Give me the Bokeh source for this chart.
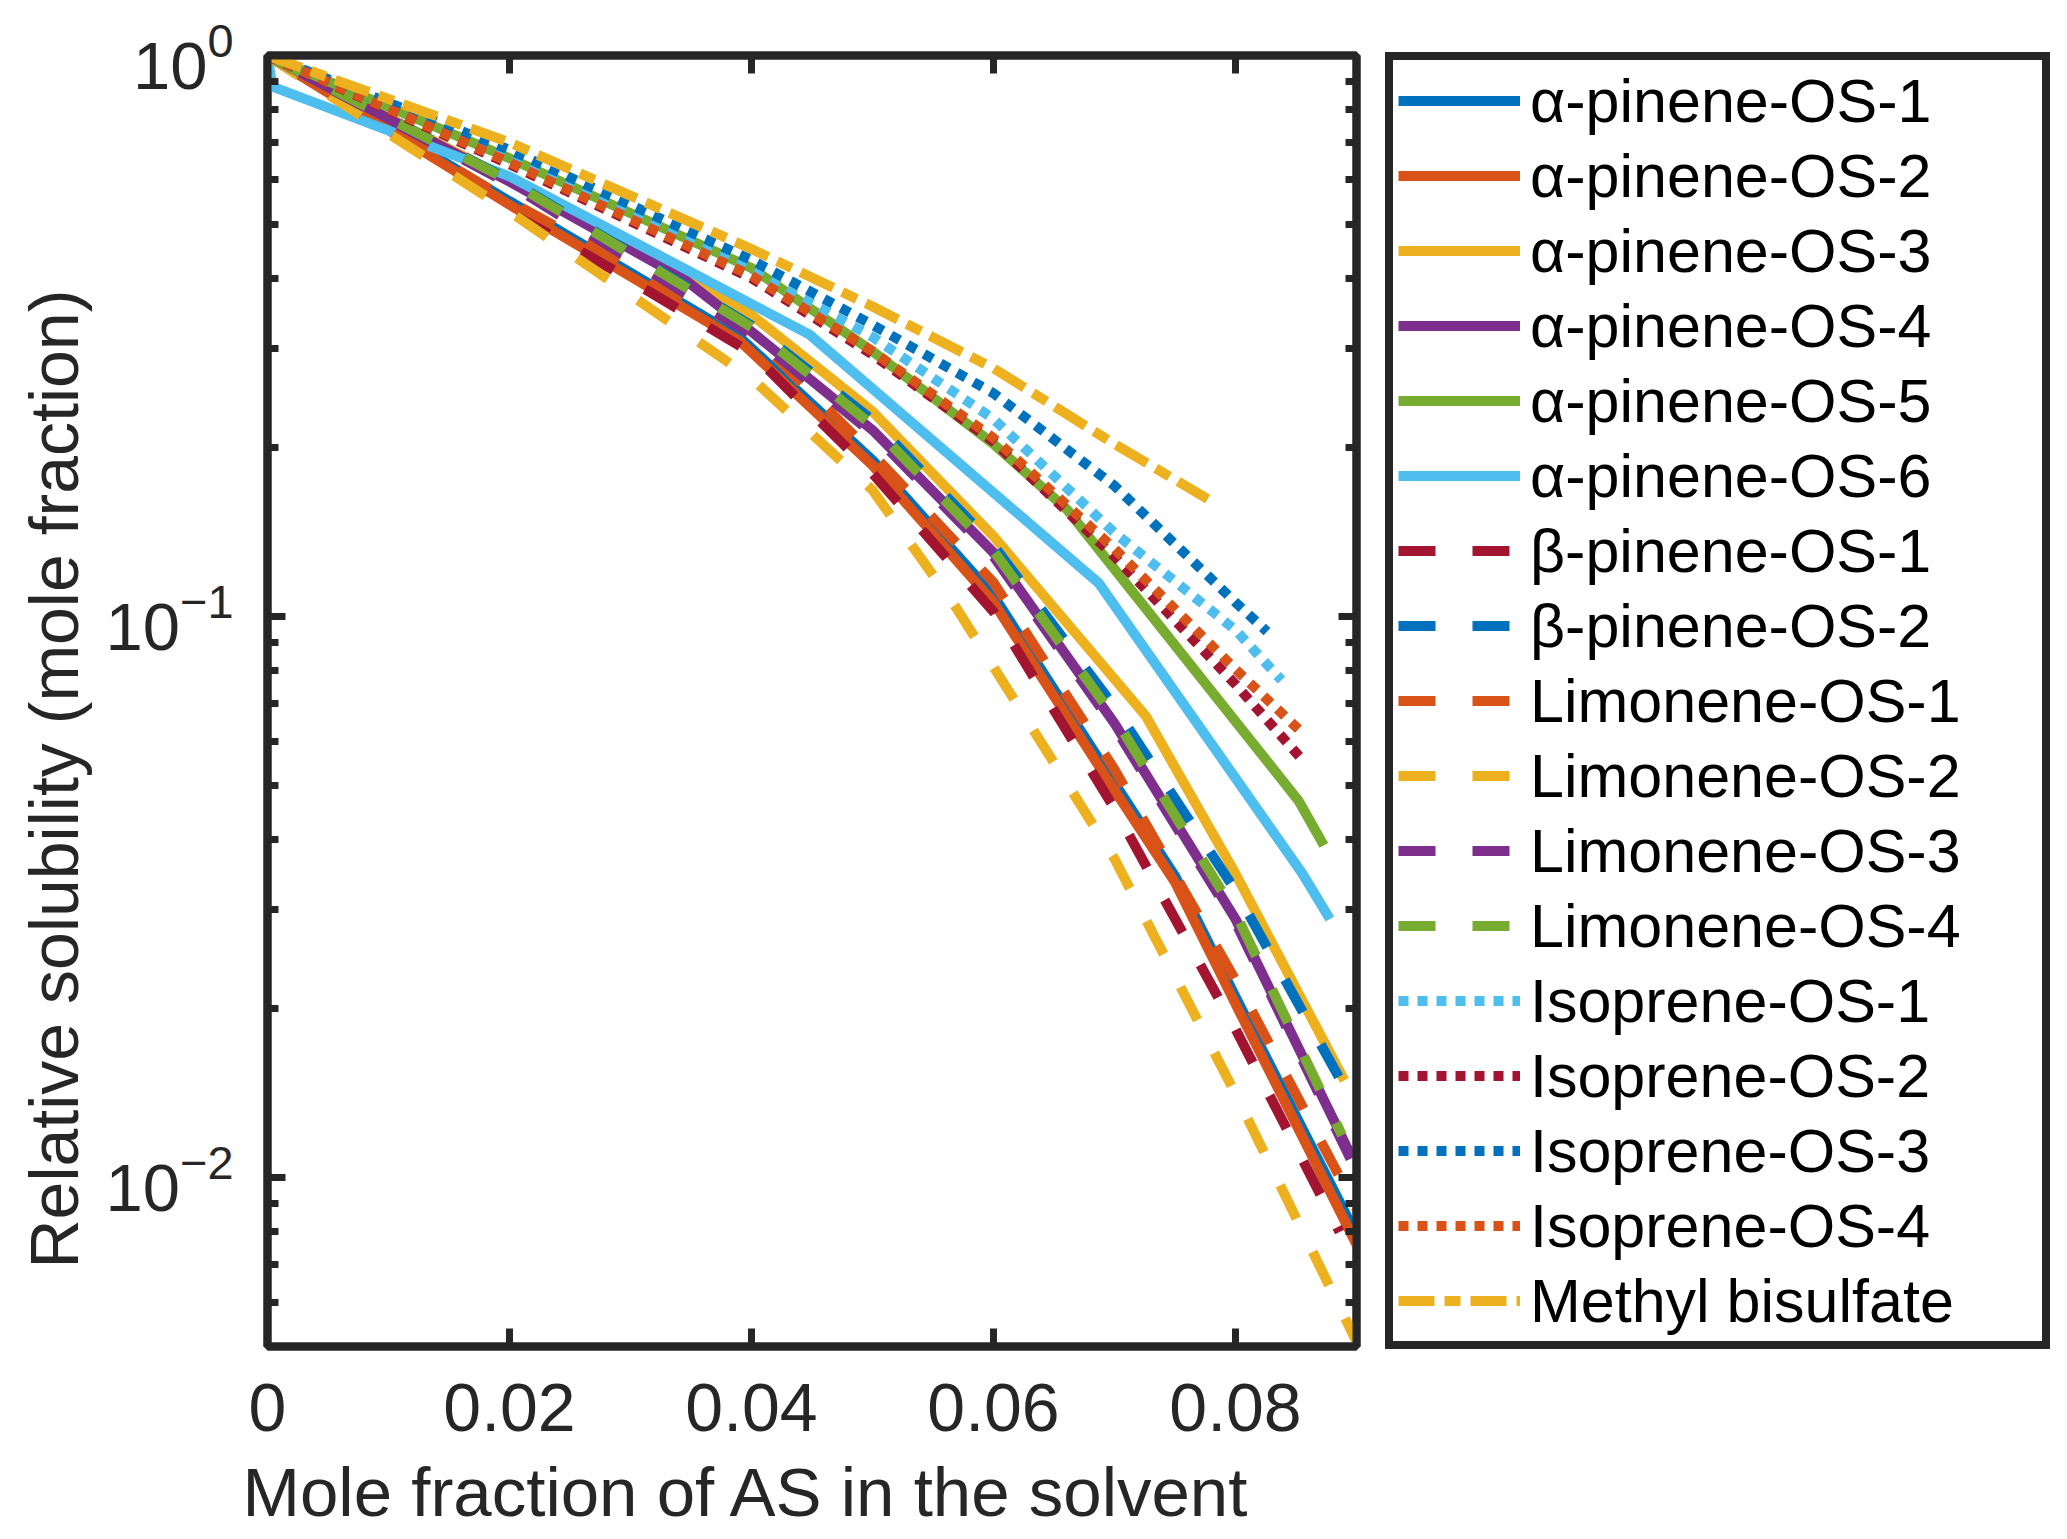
from bokeh.plotting import figure
from bokeh.models import (Range1d, FixedTicker, LinearAxis, LogAxis, Legend, LegendItem,
                          Title, CustomJSTickFormatter)
from bokeh.embed import file_html
from bokeh.resources import INLINE

FONT = "Liberation Sans"
DARK = "#262626"

# values (x = mole fraction of AS, y = relative solubility)
a1_x = [0, 0.02, 0.039, 0.05, 0.06, 0.07, 0.075, 0.08, 0.09]
a1_y = [1, 0.55, 0.315, 0.19, 0.109, 0.0505, 0.0345, 0.021, 0.0079]
a2_x = [0, 0.02, 0.039, 0.05, 0.06, 0.07, 0.075, 0.08, 0.09]
a2_y = [1, 0.542, 0.31, 0.186, 0.106, 0.049, 0.0336, 0.0204, 0.0076]
a3_x = [0, 0.02, 0.04, 0.05, 0.06, 0.0726, 0.08, 0.089]
a3_y = [1, 0.60, 0.345, 0.232, 0.139, 0.0664, 0.0348, 0.0149]
a4_x = [0, 0.02, 0.0344, 0.04, 0.05, 0.06, 0.07, 0.08, 0.0895]
a4_y = [1, 0.596, 0.40, 0.322, 0.215, 0.13, 0.0645, 0.0289, 0.011]
a5_x = [0, 0.02, 0.04, 0.05, 0.06, 0.0661, 0.0852, 0.0873]
a5_y = [1, 0.656, 0.418, 0.297, 0.203, 0.155, 0.047, 0.0391]
a6_x = [0, 0.0004, 0.02, 0.0448, 0.0687, 0.0855, 0.0878]
a6_y = [1, 0.88, 0.609, 0.318, 0.1147, 0.0349, 0.0289]
b1_x = [0, 0.02, 0.04, 0.05, 0.06, 0.07, 0.08, 0.0886]
b1_y = [1, 0.535, 0.295, 0.18, 0.102, 0.0455, 0.0184, 0.0080]
b2_x = [0, 0.02, 0.04, 0.05, 0.06, 0.07, 0.08, 0.089]
b2_y = [1, 0.60, 0.33, 0.224, 0.134, 0.069, 0.0325, 0.0145]
l1_x = [0, 0.02, 0.04, 0.05, 0.06, 0.07, 0.08, 0.09]
l1_y = [1, 0.55, 0.32, 0.195, 0.115, 0.0534, 0.0225, 0.0088]
l2_x = [0, 0.02, 0.04, 0.05, 0.057, 0.07, 0.08, 0.09]
l2_y = [1, 0.527, 0.266, 0.168, 0.103, 0.037, 0.0141, 0.0051]
l3_x = [0, 0.02, 0.04, 0.05, 0.06, 0.07, 0.08, 0.0895]
l3_y = [1, 0.59, 0.318, 0.212, 0.128, 0.0635, 0.0285, 0.0108]
l4_x = [0, 0.02, 0.04, 0.05, 0.06, 0.07, 0.08, 0.0888]
l4_y = [1, 0.598, 0.328, 0.219, 0.131, 0.066, 0.0296, 0.0119]
i1_x = [0, 0.02, 0.04, 0.05, 0.06, 0.07, 0.08, 0.0838]
i1_y = [1, 0.66, 0.415, 0.315, 0.225, 0.141, 0.0946, 0.077]
i2_x = [0, 0.02, 0.04, 0.05, 0.06, 0.07, 0.08, 0.0857]
i2_y = [1, 0.64, 0.401, 0.293, 0.205, 0.128, 0.0757, 0.055]
i3_x = [0, 0.02, 0.04, 0.05, 0.06, 0.07, 0.08, 0.0826]
i3_y = [1, 0.679, 0.432, 0.331, 0.25, 0.171, 0.106, 0.094]
i4_x = [0, 0.02, 0.04, 0.05, 0.06, 0.07, 0.08, 0.0852]
i4_y = [1, 0.645, 0.405, 0.297, 0.208, 0.132, 0.0805, 0.063]
mb_x = [0, 0.02, 0.04, 0.05, 0.06, 0.07, 0.0777]
mb_y = [1, 0.70, 0.452, 0.357, 0.277, 0.203, 0.162]

x_ticks = [0, 0.02, 0.04, 0.06, 0.08]
y_ticks = [0.01, 0.1, 1]

# matlab default colour order
blue, orange, yellow, purple = "#0072BD", "#D95319", "#EDB120", "#7E2F8E"
green, cyan, dred = "#77AC30", "#4DBEEE", "#A2142F"
solid, dashed, dotted, dashdot = "solid", "37 37", "10 9", "36 10 16 10"

series = [
    ("\u03b1-pinene-OS-1", a1_x, a1_y, blue, solid),
    ("\u03b1-pinene-OS-2", a2_x, a2_y, orange, solid),
    ("\u03b1-pinene-OS-3", a3_x, a3_y, yellow, solid),
    ("\u03b1-pinene-OS-4", a4_x, a4_y, purple, solid),
    ("\u03b1-pinene-OS-5", a5_x, a5_y, green, solid),
    ("\u03b1-pinene-OS-6", a6_x, a6_y, cyan, solid),
    ("\u03b2-pinene-OS-1", b1_x, b1_y, dred, dashed),
    ("\u03b2-pinene-OS-2", b2_x, b2_y, blue, dashed),
    ("Limonene-OS-1", l1_x, l1_y, orange, dashed),
    ("Limonene-OS-2", l2_x, l2_y, yellow, dashed),
    ("Limonene-OS-3", l3_x, l3_y, purple, dashed),
    ("Limonene-OS-4", l4_x, l4_y, green, dashed),
    ("Isoprene-OS-1", i1_x, i1_y, cyan, dotted),
    ("Isoprene-OS-2", i2_x, i2_y, dred, dotted),
    ("Isoprene-OS-3", i3_x, i3_y, blue, dotted),
    ("Isoprene-OS-4", i4_x, i4_y, orange, dotted),
    ("Methyl bisulfate", mb_x, mb_y, yellow, dashdot),
]

p = figure(frame_width=1089, frame_height=1291, y_axis_type="log",
           x_range=Range1d(0, 0.09), y_range=Range1d(0.005, 1),
           output_backend="svg", toolbar_location=None,
           min_border_left=267, min_border_top=55, min_border_bottom=180,
           min_border_right=696)
p.grid.visible = False
p.outline_line_color = DARK
p.outline_line_width = 8
p.background_fill_color = "white"
p.border_fill_color = "white"

items = []
for label, xs, ys, color, dash in series:
    r = p.line(xs, ys, line_color=color, line_width=10, line_dash=dash)
    items.append(LegendItem(label=label, renderers=[r]))

minor = [m * 10.0 ** e for e in (-3, -2, -1) for m in range(2, 10)]
xticker = FixedTicker(ticks=x_ticks)
yticker = FixedTicker(ticks=y_ticks, minor_ticks=minor)


def style(ax, ticker, size):
    ax.ticker = ticker
    ax.axis_line_color = DARK
    ax.axis_line_width = 8
    ax.major_tick_line_color = DARK
    ax.major_tick_line_width = 7
    ax.minor_tick_line_color = DARK
    ax.minor_tick_line_width = 7
    ax.major_tick_in = 18
    ax.major_tick_out = 0
    ax.minor_tick_in = 11
    ax.minor_tick_out = 0
    ax.major_label_text_font = FONT
    ax.major_label_text_font_size = size
    ax.major_label_text_color = DARK


xa = p.xaxis[0]
style(xa, xticker, "68px")
xa.formatter = CustomJSTickFormatter(code="return tick == 0 ? '0' : tick.toFixed(2)")
xa.major_label_standoff = 37

ya = p.yaxis[0]
style(ya, yticker, "67px")
ya.major_label_standoff = 34

top = LinearAxis()
style(top, xticker, "10px")
top.formatter = CustomJSTickFormatter(code="return ''")
top.major_label_standoff = 0
p.add_layout(top, "above")

right = LogAxis()
style(right, yticker, "10px")
right.formatter = CustomJSTickFormatter(code="return ''")
right.major_label_standoff = 0
p.add_layout(right, "right")

p.add_layout(Title(text="Mole fraction of AS in the solvent", text_font=FONT,
                   text_font_size="69px", text_font_style="normal", text_color=DARK,
                   align="left", offset=-25, standoff=37), "below")
p.add_layout(Title(text="Relative solubility (mole fraction)", text_font=FONT,
                   text_font_size="68px", text_font_style="normal", text_color=DARK,
                   align="left", offset=78, standoff=22), "left")

legend = Legend(items=items, location=(-160, -3), margin=0,
                glyph_width=122, glyph_height=71, label_height=71, label_width=507,
                label_standoff=10, spacing=4, padding=5,
                label_text_font=FONT, label_text_font_size="61px", label_text_color="black",
                border_line_color=DARK, border_line_width=8, border_line_alpha=1,
                background_fill_alpha=1)
p.add_layout(legend, "right")

open("out.html", "w").write(file_html(p, INLINE))
